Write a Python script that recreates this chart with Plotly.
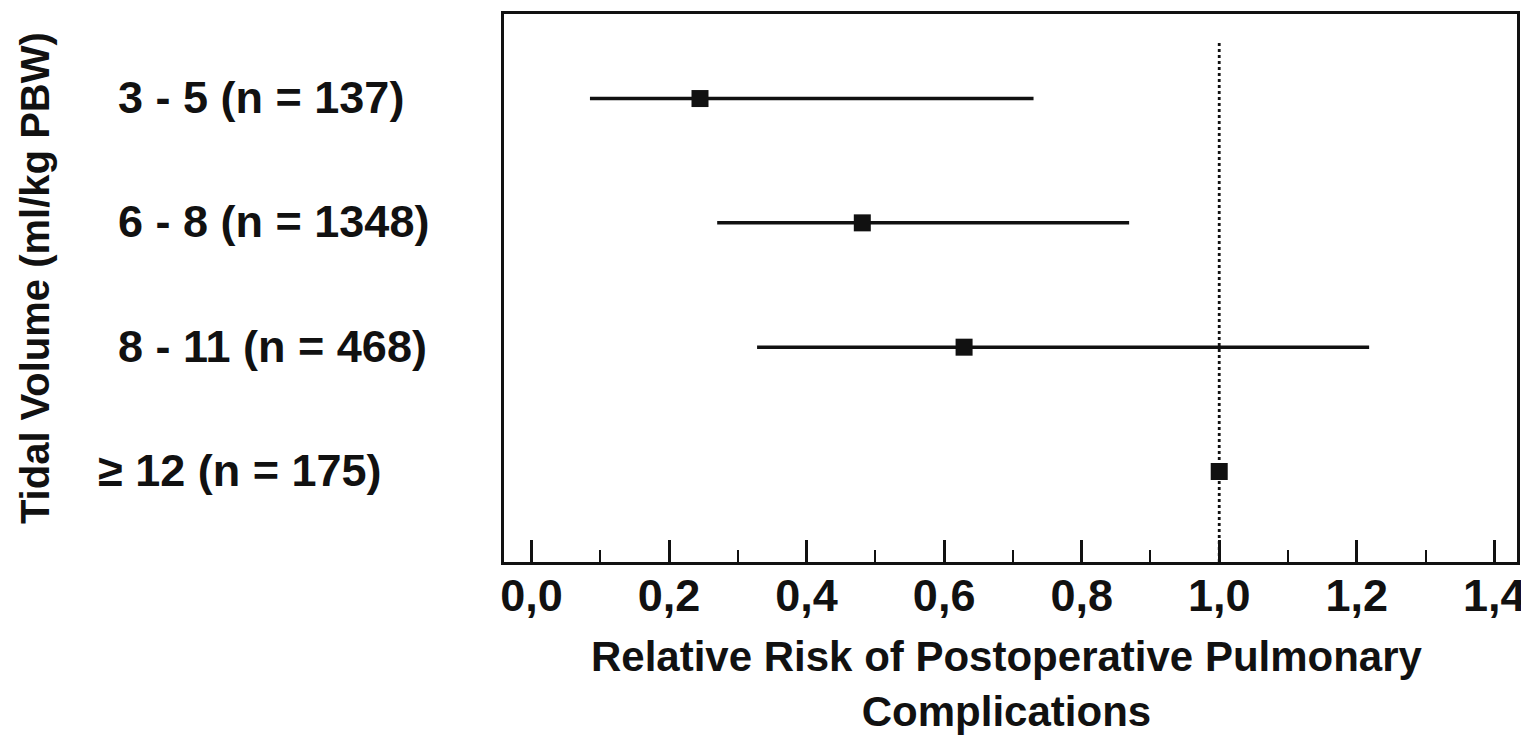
import plotly.graph_objects as go

# ---- data ----
categories = ["3 - 5 (n = 137)", "6 - 8 (n = 1348)", "8 - 11 (n = 468)", "\u2265 12 (n = 175)"]
rr = [0.245, 0.481, 0.629, 1.0]
ci_low = [0.085, 0.270, 0.328, 1.0]
ci_high = [0.730, 0.869, 1.218, 1.0]
x_tick_vals = [0.0, 0.2, 0.4, 0.6, 0.8, 1.0, 1.2, 1.4]
x_tick_labels = ["0,0", "0,2", "0,4", "0,6", "0,8", "1,0", "1,2", "1,4"]
reference_value = 1.0
x_title = "Relative Risk of Postoperative Pulmonary<br>Complications"
y_title = "Tidal Volume (ml/kg PBW)"

# rows from top to bottom
n = len(categories)
y_pos = [n - i for i in range(n)]

FONT = "Arial, Liberation Sans, Helvetica, sans-serif"
INK = "#111111"
FS = 45

fig = go.Figure()

fig.add_shape(type="line", xref="x", yref="y domain",
              x0=reference_value, x1=reference_value, y0=0, y1=0.947,
              line=dict(color=INK, width=2.8, dash="dot"), layer="below")

fig.add_trace(go.Scatter(
    x=rr, y=y_pos, mode="markers",
    marker=dict(symbol="square", size=17, color=INK),
    error_x=dict(type="data", symmetric=False,
                 array=[h - r for h, r in zip(ci_high, rr)],
                 arrayminus=[r - l for r, l in zip(rr, ci_low)],
                 color=INK, thickness=3.5, width=0),
    showlegend=False, hoverinfo="skip",
))

# category labels (left-aligned text block left of the axis)
for cat, yp in zip(categories, y_pos):
    shift = -20 if cat.startswith("\u2265") else 0
    fig.add_annotation(text=cat, xref="paper", yref="y", x=-0.3832, y=yp,
                       xanchor="left", yanchor="middle", showarrow=False,
                       xshift=shift, yshift=1,
                       font=dict(family=FONT, size=FS, color=INK, weight="bold"))

fig.add_annotation(text=y_title, xref="paper", yref="paper", x=-0.463, y=0.518,
                   xanchor="center", yanchor="middle", textangle=-90, showarrow=False,
                   font=dict(family=FONT, size=40, color=INK, weight="bold"))

fig.add_annotation(text=x_title, xref="paper", yref="paper", x=0.497, y=-0.2225,
                   xanchor="center", yanchor="middle", showarrow=False,
                   font=dict(family=FONT, size=42, color=INK, weight="bold"))

fig.update_layout(
    width=1521, height=727,
    margin=dict(l=496, r=10, t=3, b=173),
    paper_bgcolor="white", plot_bgcolor="white",
    font=dict(family=FONT, color=INK),
    xaxis=dict(range=[-0.040, 1.433], tickvals=x_tick_vals, ticktext=x_tick_labels,
               ticks="inside", ticklen=22, tickwidth=3, tickcolor=INK,
               ticklabelstandoff=-8,
               minor=dict(ticks="inside", ticklen=12, tickwidth=2, tickcolor=INK,
                          dtick=0.1, tick0=0),
               showline=True, linewidth=3, linecolor=INK, mirror=True,
               showgrid=False, zeroline=False,
               tickfont=dict(family=FONT, size=FS, color=INK, weight="bold")),
    yaxis=dict(range=[0.272, 4.68], showticklabels=False, ticks="",
               showline=True, linewidth=3, linecolor=INK, mirror=True,
               showgrid=False, zeroline=False),
)

fig.write_html("out.html")
